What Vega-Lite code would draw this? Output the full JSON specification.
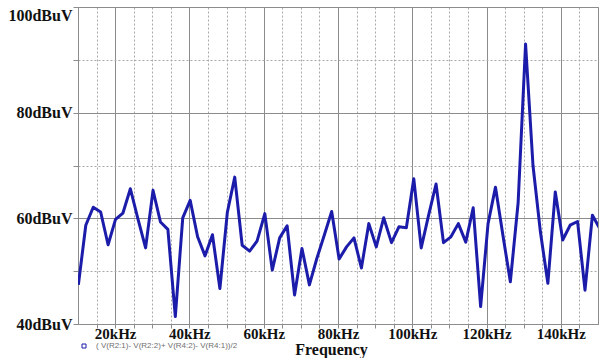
{
  "$schema": "https://vega.github.io/schema/vega-lite/v6.json",
  "autosize": "none",
  "width": 520,
  "height": 317,
  "padding": {"left": 78, "top": 7, "right": 1, "bottom": 34},
  "background": "white",
  "config": {
    "view": {"stroke": "#8c8c8c", "strokeWidth": 1},
    "font": "Liberation Serif"
  },
  "data": {
    "values": [
      {"f": 10.1, "v": 47.4, "s": "( V(R2:1)- V(R2:2)+ V(R4:2)- V(R4:1))/2"},
      {"f": 12.1, "v": 58.7, "s": "( V(R2:1)- V(R2:2)+ V(R4:2)- V(R4:1))/2"},
      {"f": 14.1, "v": 62.1, "s": "( V(R2:1)- V(R2:2)+ V(R4:2)- V(R4:1))/2"},
      {"f": 16.1, "v": 61.2, "s": "( V(R2:1)- V(R2:2)+ V(R4:2)- V(R4:1))/2"},
      {"f": 18.1, "v": 55.0, "s": "( V(R2:1)- V(R2:2)+ V(R4:2)- V(R4:1))/2"},
      {"f": 20.1, "v": 59.8, "s": "( V(R2:1)- V(R2:2)+ V(R4:2)- V(R4:1))/2"},
      {"f": 22.1, "v": 61.0, "s": "( V(R2:1)- V(R2:2)+ V(R4:2)- V(R4:1))/2"},
      {"f": 24.1, "v": 65.6, "s": "( V(R2:1)- V(R2:2)+ V(R4:2)- V(R4:1))/2"},
      {"f": 26.1, "v": 60.0, "s": "( V(R2:1)- V(R2:2)+ V(R4:2)- V(R4:1))/2"},
      {"f": 28.2, "v": 54.4, "s": "( V(R2:1)- V(R2:2)+ V(R4:2)- V(R4:1))/2"},
      {"f": 30.2, "v": 65.3, "s": "( V(R2:1)- V(R2:2)+ V(R4:2)- V(R4:1))/2"},
      {"f": 32.2, "v": 59.3, "s": "( V(R2:1)- V(R2:2)+ V(R4:2)- V(R4:1))/2"},
      {"f": 34.2, "v": 57.9, "s": "( V(R2:1)- V(R2:2)+ V(R4:2)- V(R4:1))/2"},
      {"f": 36.2, "v": 41.4, "s": "( V(R2:1)- V(R2:2)+ V(R4:2)- V(R4:1))/2"},
      {"f": 38.2, "v": 60.1, "s": "( V(R2:1)- V(R2:2)+ V(R4:2)- V(R4:1))/2"},
      {"f": 40.2, "v": 63.4, "s": "( V(R2:1)- V(R2:2)+ V(R4:2)- V(R4:1))/2"},
      {"f": 42.2, "v": 56.5, "s": "( V(R2:1)- V(R2:2)+ V(R4:2)- V(R4:1))/2"},
      {"f": 44.2, "v": 52.9, "s": "( V(R2:1)- V(R2:2)+ V(R4:2)- V(R4:1))/2"},
      {"f": 46.2, "v": 56.9, "s": "( V(R2:1)- V(R2:2)+ V(R4:2)- V(R4:1))/2"},
      {"f": 48.2, "v": 46.7, "s": "( V(R2:1)- V(R2:2)+ V(R4:2)- V(R4:1))/2"},
      {"f": 50.2, "v": 61.1, "s": "( V(R2:1)- V(R2:2)+ V(R4:2)- V(R4:1))/2"},
      {"f": 52.2, "v": 67.8, "s": "( V(R2:1)- V(R2:2)+ V(R4:2)- V(R4:1))/2"},
      {"f": 54.2, "v": 54.9, "s": "( V(R2:1)- V(R2:2)+ V(R4:2)- V(R4:1))/2"},
      {"f": 56.2, "v": 53.8, "s": "( V(R2:1)- V(R2:2)+ V(R4:2)- V(R4:1))/2"},
      {"f": 58.2, "v": 55.7, "s": "( V(R2:1)- V(R2:2)+ V(R4:2)- V(R4:1))/2"},
      {"f": 60.3, "v": 60.9, "s": "( V(R2:1)- V(R2:2)+ V(R4:2)- V(R4:1))/2"},
      {"f": 62.3, "v": 50.2, "s": "( V(R2:1)- V(R2:2)+ V(R4:2)- V(R4:1))/2"},
      {"f": 64.3, "v": 56.3, "s": "( V(R2:1)- V(R2:2)+ V(R4:2)- V(R4:1))/2"},
      {"f": 66.3, "v": 58.6, "s": "( V(R2:1)- V(R2:2)+ V(R4:2)- V(R4:1))/2"},
      {"f": 68.3, "v": 45.5, "s": "( V(R2:1)- V(R2:2)+ V(R4:2)- V(R4:1))/2"},
      {"f": 70.3, "v": 54.3, "s": "( V(R2:1)- V(R2:2)+ V(R4:2)- V(R4:1))/2"},
      {"f": 72.3, "v": 47.4, "s": "( V(R2:1)- V(R2:2)+ V(R4:2)- V(R4:1))/2"},
      {"f": 74.3, "v": 52.4, "s": "( V(R2:1)- V(R2:2)+ V(R4:2)- V(R4:1))/2"},
      {"f": 76.3, "v": 56.8, "s": "( V(R2:1)- V(R2:2)+ V(R4:2)- V(R4:1))/2"},
      {"f": 78.3, "v": 61.3, "s": "( V(R2:1)- V(R2:2)+ V(R4:2)- V(R4:1))/2"},
      {"f": 80.3, "v": 52.3, "s": "( V(R2:1)- V(R2:2)+ V(R4:2)- V(R4:1))/2"},
      {"f": 82.3, "v": 54.6, "s": "( V(R2:1)- V(R2:2)+ V(R4:2)- V(R4:1))/2"},
      {"f": 84.3, "v": 56.3, "s": "( V(R2:1)- V(R2:2)+ V(R4:2)- V(R4:1))/2"},
      {"f": 86.3, "v": 50.6, "s": "( V(R2:1)- V(R2:2)+ V(R4:2)- V(R4:1))/2"},
      {"f": 88.3, "v": 59.0, "s": "( V(R2:1)- V(R2:2)+ V(R4:2)- V(R4:1))/2"},
      {"f": 90.3, "v": 54.6, "s": "( V(R2:1)- V(R2:2)+ V(R4:2)- V(R4:1))/2"},
      {"f": 92.3, "v": 60.1, "s": "( V(R2:1)- V(R2:2)+ V(R4:2)- V(R4:1))/2"},
      {"f": 94.4, "v": 55.4, "s": "( V(R2:1)- V(R2:2)+ V(R4:2)- V(R4:1))/2"},
      {"f": 96.4, "v": 58.4, "s": "( V(R2:1)- V(R2:2)+ V(R4:2)- V(R4:1))/2"},
      {"f": 98.4, "v": 58.2, "s": "( V(R2:1)- V(R2:2)+ V(R4:2)- V(R4:1))/2"},
      {"f": 100.4, "v": 67.5, "s": "( V(R2:1)- V(R2:2)+ V(R4:2)- V(R4:1))/2"},
      {"f": 102.4, "v": 54.4, "s": "( V(R2:1)- V(R2:2)+ V(R4:2)- V(R4:1))/2"},
      {"f": 104.4, "v": 60.6, "s": "( V(R2:1)- V(R2:2)+ V(R4:2)- V(R4:1))/2"},
      {"f": 106.4, "v": 66.5, "s": "( V(R2:1)- V(R2:2)+ V(R4:2)- V(R4:1))/2"},
      {"f": 108.4, "v": 55.4, "s": "( V(R2:1)- V(R2:2)+ V(R4:2)- V(R4:1))/2"},
      {"f": 110.4, "v": 56.5, "s": "( V(R2:1)- V(R2:2)+ V(R4:2)- V(R4:1))/2"},
      {"f": 112.4, "v": 59.0, "s": "( V(R2:1)- V(R2:2)+ V(R4:2)- V(R4:1))/2"},
      {"f": 114.4, "v": 55.5, "s": "( V(R2:1)- V(R2:2)+ V(R4:2)- V(R4:1))/2"},
      {"f": 116.4, "v": 62.0, "s": "( V(R2:1)- V(R2:2)+ V(R4:2)- V(R4:1))/2"},
      {"f": 118.4, "v": 43.3, "s": "( V(R2:1)- V(R2:2)+ V(R4:2)- V(R4:1))/2"},
      {"f": 120.4, "v": 59.0, "s": "( V(R2:1)- V(R2:2)+ V(R4:2)- V(R4:1))/2"},
      {"f": 122.4, "v": 65.9, "s": "( V(R2:1)- V(R2:2)+ V(R4:2)- V(R4:1))/2"},
      {"f": 124.4, "v": 56.8, "s": "( V(R2:1)- V(R2:2)+ V(R4:2)- V(R4:1))/2"},
      {"f": 126.4, "v": 48.0, "s": "( V(R2:1)- V(R2:2)+ V(R4:2)- V(R4:1))/2"},
      {"f": 128.5, "v": 63.0, "s": "( V(R2:1)- V(R2:2)+ V(R4:2)- V(R4:1))/2"},
      {"f": 130.5, "v": 93.0, "s": "( V(R2:1)- V(R2:2)+ V(R4:2)- V(R4:1))/2"},
      {"f": 132.5, "v": 70.0, "s": "( V(R2:1)- V(R2:2)+ V(R4:2)- V(R4:1))/2"},
      {"f": 134.5, "v": 57.4, "s": "( V(R2:1)- V(R2:2)+ V(R4:2)- V(R4:1))/2"},
      {"f": 136.5, "v": 47.7, "s": "( V(R2:1)- V(R2:2)+ V(R4:2)- V(R4:1))/2"},
      {"f": 138.5, "v": 65.0, "s": "( V(R2:1)- V(R2:2)+ V(R4:2)- V(R4:1))/2"},
      {"f": 140.5, "v": 55.9, "s": "( V(R2:1)- V(R2:2)+ V(R4:2)- V(R4:1))/2"},
      {"f": 142.5, "v": 58.7, "s": "( V(R2:1)- V(R2:2)+ V(R4:2)- V(R4:1))/2"},
      {"f": 144.5, "v": 59.4, "s": "( V(R2:1)- V(R2:2)+ V(R4:2)- V(R4:1))/2"},
      {"f": 146.5, "v": 46.4, "s": "( V(R2:1)- V(R2:2)+ V(R4:2)- V(R4:1))/2"},
      {"f": 148.5, "v": 60.6, "s": "( V(R2:1)- V(R2:2)+ V(R4:2)- V(R4:1))/2"},
      {"f": 150.5, "v": 58.0, "s": "( V(R2:1)- V(R2:2)+ V(R4:2)- V(R4:1))/2"}
    ]
  },
  "mark": {"type": "line", "strokeWidth": 3, "strokeJoin": "round", "clip": true},
  "encoding": {
    "x": {
      "field": "f",
      "type": "quantitative",
      "scale": {"domain": [10, 150], "nice": false, "zero": false},
      "axis": {
        "values": [15, 20, 25, 30, 35, 40, 45, 50, 55, 60, 65, 70, 75, 80, 85, 90, 95, 100, 105, 110, 115, 120, 125, 130, 135, 140, 145],
        "labelExpr": "datum.value % 20 === 0 ? datum.value + 'kHz' : ''",
        "labelFont": "Liberation Serif",
        "labelFontWeight": "bold",
        "labelFontSize": 15,
        "labelColor": "#111111",
        "labelPadding": -2,
        "labelBaseline": "top",
        "tickSize": 4,
        "tickColor": "#8c8c8c",
        "domainColor": "#8c8c8c",
        "grid": true,
        "gridColor": {"condition": {"test": "datum.value % 20 === 0", "value": "#8c8c8c"}, "value": "#a8a8a8"},
        "gridDash": {"condition": {"test": "datum.value % 20 === 0", "value": []}, "value": [2, 2]},
        "gridWidth": 1,
        "title": "Frequency",
        "titleFont": "Liberation Serif",
        "titleFontWeight": "bold",
        "titleFontSize": 16,
        "titleColor": "#111111",
        "titleX": 253,
        "titleY": 30,
        "titleAlign": "center",
        "titleBaseline": "alphabetic"
      }
    },
    "y": {
      "field": "v",
      "type": "quantitative",
      "scale": {"domain": [40, 100], "nice": false, "zero": false},
      "axis": {
        "values": [40, 50, 60, 70, 80, 90, 100],
        "labelExpr": "datum.value % 20 === 0 ? datum.value + 'dBuV' : ''",
        "labelFont": "Liberation Serif",
        "labelFontWeight": "bold",
        "labelFontSize": 16,
        "labelColor": "#111111",
        "labelPadding": 1,
        "labelBaseline": {"condition": {"test": "datum.value === 100", "value": "top"}, "value": "middle"},
        "tickSize": 5,
        "tickColor": "#8c8c8c",
        "domainColor": "#8c8c8c",
        "grid": true,
        "gridColor": {"condition": {"test": "datum.value % 20 === 0", "value": "#8c8c8c"}, "value": "#a8a8a8"},
        "gridDash": {"condition": {"test": "datum.value % 20 === 0", "value": []}, "value": [2, 2]},
        "gridWidth": 1,
        "title": null
      }
    },
    "color": {
      "field": "s",
      "type": "nominal",
      "scale": {"range": ["#1c1caa"]},
      "legend": {
        "orient": "none",
        "legendX": 2,
        "legendY": 335,
        "title": null,
        "symbolType": "square",
        "symbolSize": 16,
        "symbolFillColor": "white",
        "symbolStrokeColor": "#7080b0",
        "symbolStrokeWidth": 1,
        "labelFont": "Liberation Sans",
        "labelFontSize": 8,
        "labelColor": "#707070",
        "labelOffset": 8,
        "padding": 0
      }
    }
  }
}
